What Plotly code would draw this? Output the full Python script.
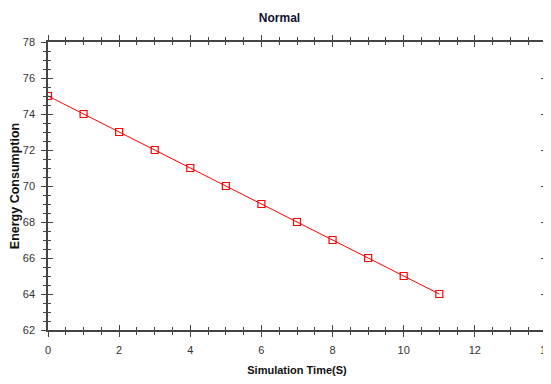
import plotly.graph_objects as go

sim_time = [0, 1, 2, 3, 4, 5, 6, 7, 8, 9, 10, 11]
energy = [75, 74, 73, 72, 71, 70, 69, 68, 67, 66, 65, 64]
x_ticks = [0, 2, 4, 6, 8, 10, 12, 14]
y_ticks = [62, 64, 66, 68, 70, 72, 74, 76, 78]

narrow = "Liberation Sans Narrow, Arial Narrow, Liberation Sans, sans-serif"

# page body has an 8px default margin, so the figure is sized to fit the 551x384 window
W, H = 543, 376

fig = go.Figure()
fig.add_trace(go.Scatter(
    x=sim_time, y=energy, mode="lines+markers",
    line=dict(color="#ff0000", width=1),
    marker=dict(symbol="square-open", size=7, color="#ff0000", line=dict(width=1.2)),
    showlegend=False,
))
# invisible trace for outer ticks
fig.add_trace(go.Scatter(x=[0], y=[62], xaxis="x2", yaxis="y2", mode="markers",
                         marker=dict(opacity=0), showlegend=False, hoverinfo="skip"))

axis_common = dict(showgrid=False, zeroline=False, showline=True, linecolor="#444444",
                   linewidth=1.5, mirror="allticks", tickcolor="#444444", automargin=False)

fig.update_layout(
    width=W, height=H,
    margin=dict(l=40, r=5, t=34, b=54),
    plot_bgcolor="white", paper_bgcolor="white",
    title=dict(text="<b>Normal</b>", x=0.5, xanchor="center", y=1 - 10 / H, yanchor="middle",
               font=dict(family=narrow, size=12, color="#111133")),
    xaxis=dict(range=[0, 14], tickvals=x_ticks, ticks="inside", ticklen=5, tickwidth=1.2,
               minor=dict(dtick=0.5, ticks="inside", ticklen=3, tickcolor="#444444"),
               tickfont=dict(family=narrow, size=11, color="#333333"),
               ticklabelstandoff=9, ticklabeloverflow="allow",
               title=dict(text="<b>Simulation Time(S)</b>", standoff=11,
                          font=dict(family=narrow, size=11, color="#111111")),
               **axis_common),
    yaxis=dict(range=[62, 78], tickvals=y_ticks, ticks="inside", ticklen=5, tickwidth=1.2,
               minor=dict(dtick=0.5, ticks="inside", ticklen=3, tickcolor="#444444"),
               tickfont=dict(family=narrow, size=11, color="#333333"),
               ticklabelstandoff=9, ticklabeloverflow="allow",
               title=dict(text="<b>Energy Consumption</b>", standoff=3,
                          font=dict(family="Liberation Sans, Arial, sans-serif", size=12.5, color="#111111")),
               **axis_common),
    xaxis2=dict(range=[0, 14], tickvals=x_ticks, ticks="outside", ticklen=5, tickwidth=1.2,
                minor=dict(dtick=0.5, ticks="outside", ticklen=3, tickcolor="#444444"),
                showticklabels=False, overlaying="x", anchor="y2", **axis_common),
    yaxis2=dict(range=[62, 78], tickvals=y_ticks, ticks="outside", ticklen=5, tickwidth=1.2,
                minor=dict(dtick=0.5, ticks="outside", ticklen=3, tickcolor="#444444"),
                showticklabels=False, overlaying="y", anchor="x2", **axis_common),
)

fig.write_html("out.html")
